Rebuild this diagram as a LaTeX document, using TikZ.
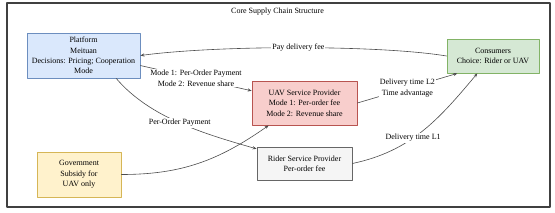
\documentclass[tikz,border=0pt]{standalone}
\usepackage{fontspec}
\setmainfont{Liberation Serif}
\usetikzlibrary{arrows.meta,calc}
\definecolor{PlatFill}{HTML}{DAE8FC}
\definecolor{PlatLine}{HTML}{6C8EBF}
\definecolor{ConsFill}{HTML}{D5E8D4}
\definecolor{ConsLine}{HTML}{82B366}
\definecolor{UavFill}{HTML}{F8CECC}
\definecolor{UavLine}{HTML}{B85450}
\definecolor{RiderFill}{HTML}{F5F5F5}
\definecolor{RiderLine}{HTML}{666666}
\definecolor{GovFill}{HTML}{FFF2CC}
\definecolor{GovLine}{HTML}{D6B656}
\definecolor{EdgeGray}{HTML}{4D4D4D}

\begin{document}
\begin{tikzpicture}[x=1pt,y=1pt,line cap=round,line join=round,
  font=\fontsize{8}{10.3}\selectfont,
  box/.style={draw,line width=0.8pt,align=center,inner sep=1pt},
  flow/.style={EdgeGray,line width=0.6pt,-{Stealth[length=4pt,width=3.2pt]}},
  tag/.style={fill=white,text=black,align=center,inner sep=1pt}]
  \useasboundingbox (0,0) rectangle (555,-212);
  \draw[black!75,line width=1.1pt] (7,-3) rectangle (550,-207);
  \node (title) at (277.5,-12) {Core Supply Chain Structure};

  \node[box,fill=PlatFill,draw=PlatLine,minimum width=113pt,minimum height=45pt]
    (plat) at (83.5,-55.5) {Platform\\Meituan\\Decisions: Pricing; Cooperation\\Mode};
  \node[box,fill=ConsFill,draw=ConsLine,minimum width=92pt,minimum height=34pt]
    (cons) at (493,-56) {Consumers\\Choice: Rider or UAV};
  \node[box,fill=UavFill,draw=UavLine,minimum width=105pt,minimum height=44pt]
    (uav) at (304.5,-103) {UAV Service Provider\\Mode 1: Per-order fee\\Mode 2: Revenue share};
  \node[box,fill=RiderFill,draw=RiderLine,minimum width=95pt,minimum height=33pt]
    (rider) at (304.5,-163.5) {Rider Service Provider\\Per-order fee};
  \node[box,fill=GovFill,draw=GovLine,minimum width=84pt,minimum height=45pt]
    (gov) at (79,-174.5) {Government\\Subsidy for\\UAV only};

  \draw[flow] (cons.west) .. controls (380,-45) and (220,-45) .. (plat.east)
    node[tag,pos=0.5] {Pay delivery fee};
  \draw[flow] (plat.-10.5) -- (uav.167)
    node[tag,pos=0.5] {Mode 1: Per-Order Payment\\Mode 2: Revenue share};
  \draw[flow] (plat.-35.5) .. controls (150,-118) and (205,-134) .. (rider.163)
    node[tag,pos=0.5] {Per-Order Payment};
  \draw[flow] (gov.east) to[out=0,in=-145] (uav.212.5);
  \draw[flow] (uav.east) -- (cons.206)
    node[tag,pos=0.5] {Delivery time L2\\Time advantage};
  \draw[flow] (rider.east) to[out=12,in=-130]
    node[tag,pos=0.42] {Delivery time L1} (cons.228.6);
\end{tikzpicture}
\end{document}
